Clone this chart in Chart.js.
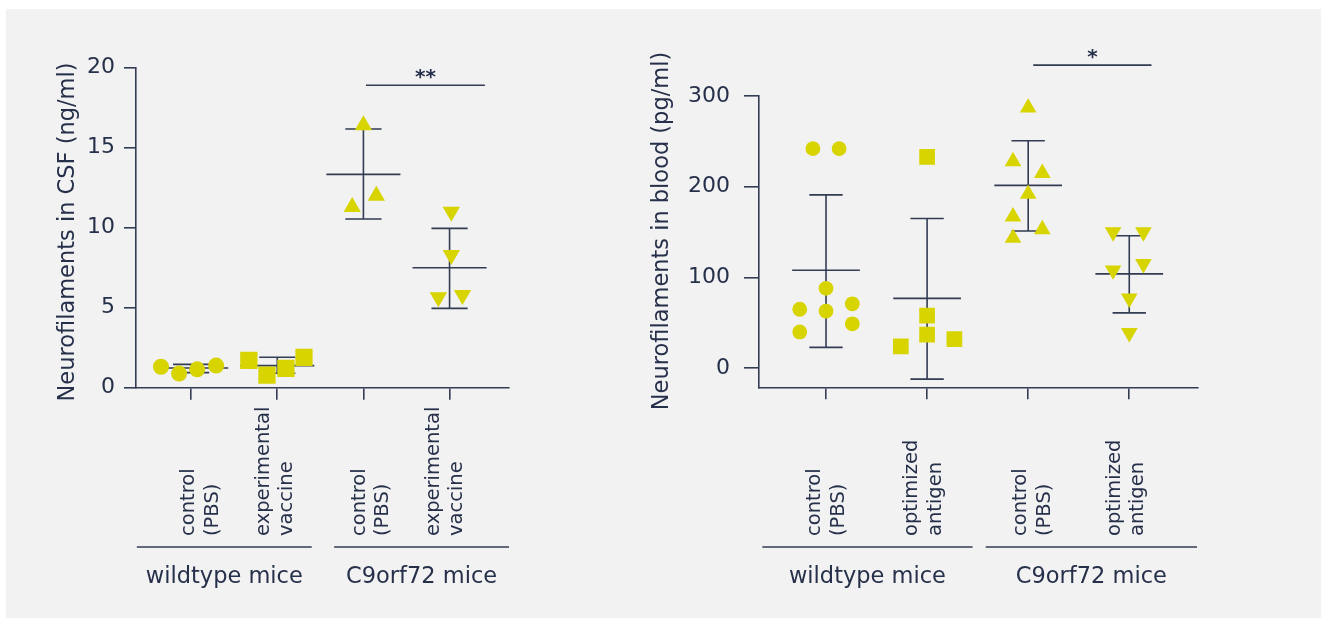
<!DOCTYPE html>
<html><head><meta charset="utf-8">
<script src="https://cdn.jsdelivr.net/npm/chart.js@4.4.1/dist/chart.umd.min.js"></script>
<style>
html,body{margin:0;padding:0;background:#ffffff;width:1321px;height:618px;overflow:hidden}
#panel{position:absolute;left:6px;top:9px;width:1315px;height:609px;background:#f2f2f2}
#w1{position:absolute;left:0;top:0;width:620px;height:618px}
#w2{position:absolute;left:620px;top:0;width:701px;height:618px}
</style></head><body>
<div id="panel"></div>
<div id="w1"><canvas id="c1" width="620" height="618"></canvas></div>
<div id="w2"><canvas id="c2" width="701" height="618"></canvas></div>
<script>
// ---------- data: CSF (left) ----------
const csfTitle = 'Neurofilaments in CSF (ng/ml)';
const csfCategoryLabels = [['control', '(PBS)'], ['experimental', 'vaccine'], ['control', '(PBS)'], ['experimental', 'vaccine']];
const groupLabels = ['wildtype mice', 'C9orf72 mice'];
const csfYTicks = [0, 5, 10, 15, 20];
const csfWtCtrlX = [0.65, 0.86, 1.07, 1.29];
const csfWtCtrlY = [1.31, 0.88, 1.15, 1.38];
const csfWtVacX = [1.67, 1.88, 2.10, 2.31];
const csfWtVacY = [1.71, 0.78, 1.21, 1.9];
const csfC9CtrlX = [3.0, 2.87, 3.15];
const csfC9CtrlY = [16.4, 11.3, 12.0];
const csfC9VacX = [4.02, 4.02, 3.87, 4.15];
const csfC9VacY = [11.0, 8.3, 5.65, 5.8];
const csfMean = [1.23, 1.38, 13.33, 7.5];
const csfErrHigh = [1.46, 1.9, 16.17, 9.96];
const csfErrLow = [0.94, 0.9, 10.54, 4.96];
const csfSigSpan = [3.03, 4.41];
const csfSigY = 18.9;
const csfSigLabel = '**';

// ---------- data: blood (right) ----------
const bloodTitle = 'Neurofilaments in blood (pg/ml)';
const bloodCategoryLabels = [['control', '(PBS)'], ['optimized', 'antigen'], ['control', '(PBS)'], ['optimized', 'antigen']];
const bloodYTicks = [0, 100, 200, 300];
const bloodWtCtrlX = [0.87, 1.13, 1.0, 0.74, 1.0, 1.26, 0.74, 1.26];
const bloodWtCtrlY = [242, 242, 88, 65, 63, 71, 40, 49];
const bloodWtAgX = [2.0, 2.0, 1.74, 2.0, 2.27];
const bloodWtAgY = [233, 58, 24, 37, 32];
const bloodC9CtrlX = [3.0, 2.85, 3.14, 3.0, 2.85, 3.14, 2.85];
const bloodC9CtrlY = [287, 228, 215, 192, 167, 153, 143.5];
const bloodC9AgX = [3.84, 4.14, 3.84, 4.14, 4.0, 4.0];
const bloodC9AgY = [150, 150, 108, 115, 77, 39];
const bloodMean = [108, 77, 201.5, 104];
const bloodErrHigh = [191, 165, 250.7, 146];
const bloodErrLow = [23, -12, 151.2, 61];
const bloodSigSpan = [3.05, 4.22];
const bloodSigY = 334;
const bloodSigLabel = '*';

// ---------- styling ----------
const YELLOW = '#d7d400';
const TEXT = '#26304a';
const LINE = '#323c52';
const FONT = '"DejaVu Sans", sans-serif';

function pts(xs, ys) { return xs.map((x, i) => ({ x: x, y: ys[i] })); }

function errorBarData(means, highs, lows, halfMean, halfCap) {
  const d = [];
  means.forEach((m, i) => {
    const x = i + 1;
    d.push({ x: x - halfMean, y: m }, { x: x + halfMean, y: m }, { x: x, y: null });
    d.push({ x: x, y: lows[i] }, { x: x, y: highs[i] }, { x: x, y: null });
    d.push({ x: x - halfCap, y: highs[i] }, { x: x + halfCap, y: highs[i] }, { x: x, y: null });
    d.push({ x: x - halfCap, y: lows[i] }, { x: x + halfCap, y: lows[i] }, { x: x, y: null });
  });
  return d;
}

function scatterSet(xs, ys, style, radius, rotation) {
  return {
    type: 'scatter', data: pts(xs, ys), pointStyle: style, pointRadius: radius,
    pointHoverRadius: radius, pointRotation: rotation || 0,
    backgroundColor: YELLOW, borderColor: YELLOW, borderWidth: 0, order: 1
  };
}

const annotPlugin = {
  id: 'annot',
  afterDraw(chart, args, o) {
    const ctx = chart.ctx, xs = chart.scales.x, ys = chart.scales.y;
    ctx.save();
    ctx.fillStyle = TEXT;
    ctx.strokeStyle = LINE;
    // y-axis title
    ctx.save();
    ctx.translate(o.titleX, o.titleY);
    ctx.rotate(-Math.PI / 2);
    ctx.font = '22.5px ' + FONT;
    ctx.textAlign = 'center';
    ctx.textBaseline = 'middle';
    ctx.fillText(o.title, 0, 0);
    ctx.restore();
    // category labels (rotated)
    ctx.font = '19.5px ' + FONT;
    o.categories.forEach((lines, i) => {
      const cx = xs.getPixelForValue(i + 1) + o.nudges[i];
      lines.forEach((t, j) => {
        ctx.save();
        ctx.translate(cx + (j - (lines.length - 1) / 2) * o.lineGap, o.labelBottom);
        ctx.rotate(-Math.PI / 2);
        ctx.textAlign = 'left';
        ctx.textBaseline = 'middle';
        ctx.fillText(t, 0, 0);
        ctx.restore();
      });
    });
    // group brackets
    ctx.lineWidth = 1.5;
    ctx.font = '22.5px ' + FONT;
    ctx.textAlign = 'center';
    ctx.textBaseline = 'alphabetic';
    o.groups.forEach((g, i) => {
      const x1 = xs.getPixelForValue(o.groupSpans[i][0]);
      const x2 = xs.getPixelForValue(o.groupSpans[i][1]);
      ctx.beginPath();
      ctx.moveTo(x1, o.groupLineY);
      ctx.lineTo(x2, o.groupLineY);
      ctx.stroke();
      ctx.fillText(g, (x1 + x2) / 2, o.groupTextY);
    });
    // significance label
    ctx.font = 'bold 20px ' + FONT;
    ctx.textAlign = 'center';
    ctx.textBaseline = 'alphabetic';
    const sx = xs.getPixelForValue((o.sigSpan[0] + o.sigSpan[1]) / 2);
    ctx.fillText(o.sigLabel, sx, ys.getPixelForValue(o.sigY) - 2);
    ctx.restore();
  }
};

function makeChart(canvasId, cfg) {
  const datasets = cfg.groups.map(g => scatterSet(g.x, g.y, g.style, g.r, g.rot));
  datasets.push({
    type: 'line', data: errorBarData(cfg.mean, cfg.high, cfg.low, cfg.halfMean, cfg.halfCap),
    borderColor: LINE, borderWidth: 1.6, pointRadius: 0, spanGaps: false, fill: false, order: 2
  });
  datasets.push({
    type: 'line', data: [{ x: cfg.sigSpan[0], y: cfg.sigY }, { x: cfg.sigSpan[1], y: cfg.sigY }],
    borderColor: LINE, borderWidth: 1.6, pointRadius: 0, fill: false, clip: false, order: 2
  });
  return new Chart(document.getElementById(canvasId), {
    data: { datasets: datasets },
    plugins: [annotPlugin],
    options: {
      responsive: false, animation: false, events: [],
      layout: { padding: { top: cfg.padTop, right: cfg.padRight, left: 0, bottom: 0 } },
      plugins: {
        legend: { display: false }, tooltip: { enabled: false },
        annot: {
          title: cfg.title, titleX: cfg.titleX, titleY: cfg.titleY,
          categories: cfg.categories, nudges: cfg.nudges, lineGap: 23.5, labelBottom: 536,
          groups: groupLabels, groupSpans: cfg.groupSpans, groupLineY: 547, groupTextY: 583,
          sigSpan: cfg.sigSpan, sigY: cfg.sigY, sigLabel: cfg.sigLabel
        }
      },
      scales: {
        x: {
          type: 'linear', min: cfg.xMin, max: cfg.xMax,
          afterBuildTicks: s => { s.ticks = [1, 2, 3, 4].map(v => ({ value: v })); },
          afterFit: s => { s.height = cfg.xHeight; },
          ticks: { display: false },
          grid: { drawOnChartArea: false, drawTicks: true, tickLength: 12, color: LINE, lineWidth: 1.6 },
          border: { display: true, color: LINE, width: 1.6 }
        },
        y: {
          type: 'linear', min: cfg.yMin, max: cfg.yMax,
          afterBuildTicks: s => { s.ticks = cfg.yTicks.map(v => ({ value: v })); },
          afterFit: s => { s.width = cfg.yWidth; },
          ticks: { color: TEXT, font: { family: FONT, size: 22 }, padding: cfg.tickPad },
          grid: { drawOnChartArea: false, drawTicks: true, tickLength: cfg.tickLen, color: LINE, lineWidth: 1.6 },
          border: { display: true, color: LINE, width: 1.6 }
        }
      }
    }
  });
}

makeChart('c1', {
  title: csfTitle, titleX: 68, titleY: 232,
  categories: csfCategoryLabels, nudges: [10, -2, 8, -4],
  groupSpans: [[0.37, 2.40], [2.66, 4.69]],
  groups: [
    { x: csfWtCtrlX, y: csfWtCtrlY, style: 'circle', r: 8 },
    { x: csfWtVacX, y: csfWtVacY, style: 'rect', r: 12.2 },
    { x: csfC9CtrlX, y: csfC9CtrlY, style: 'triangle', r: 10 },
    { x: csfC9VacX, y: csfC9VacY, style: 'triangle', r: 10, rot: 180 }
  ],
  mean: csfMean, high: csfErrHigh, low: csfErrLow, halfMean: 0.43, halfCap: 0.21,
  sigSpan: csfSigSpan, sigY: csfSigY, sigLabel: csfSigLabel,
  xMin: 0.36, xMax: 4.69, yMin: 0, yMax: 20, yTicks: csfYTicks,
  padTop: 67.7, padRight: 620 - 509, xHeight: 618 - 387.7, yWidth: 136, tickPad: 9, tickLen: 12
});

makeChart('c2', {
  title: bloodTitle, titleX: 662 - 620, titleY: 231,
  categories: bloodCategoryLabels, nudges: [1, -3, 5, -3],
  groupSpans: [[0.37, 2.45], [2.58, 4.67]],
  groups: [
    { x: bloodWtCtrlX, y: bloodWtCtrlY, style: 'circle', r: 7.4 },
    { x: bloodWtAgX, y: bloodWtAgY, style: 'rect', r: 11.1 },
    { x: bloodC9CtrlX, y: bloodC9CtrlY, style: 'triangle', r: 9.6 },
    { x: bloodC9AgX, y: bloodC9AgY, style: 'triangle', r: 9.6, rot: 180 }
  ],
  mean: bloodMean, high: bloodErrHigh, low: bloodErrLow, halfMean: 0.335, halfCap: 0.165,
  sigSpan: bloodSigSpan, sigY: bloodSigY, sigLabel: bloodSigLabel,
  xMin: 0.337, xMax: 4.68, yMin: -21, yMax: 300, yTicks: bloodYTicks,
  padTop: 96, padRight: 701 - 578, xHeight: 618 - 387.3, yWidth: 139, tickPad: 14, tickLen: 15
});
</script>
</body></html>
